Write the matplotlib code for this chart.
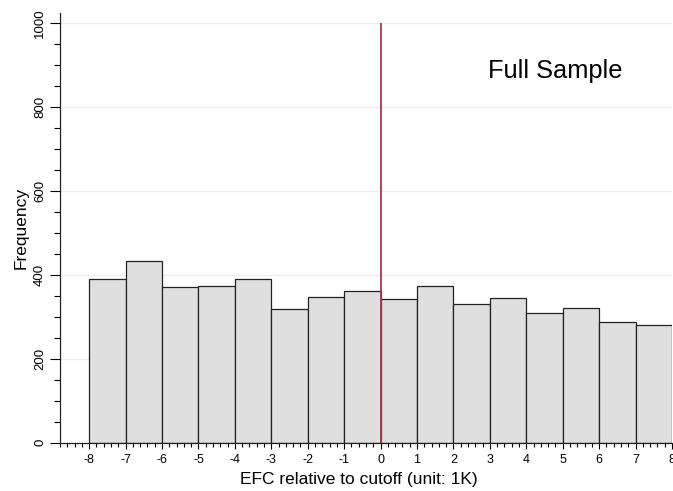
import numpy as np
import matplotlib
matplotlib.use('Agg')
from matplotlib import pyplot as plt
from matplotlib.ticker import MultipleLocator

plt.rcParams['font.family'] = ['Liberation Sans', 'DejaVu Sans']

# Histogram data (bin left edges and counts)
bin_left = np.arange(-8, 8)
counts = [389, 433, 371, 374, 390, 318, 348, 362,
          341, 372, 330, 345, 310, 321, 288, 280]
x_ticks = list(range(-8, 9))
y_ticks = [0, 200, 400, 600, 800, 1000]

fig = plt.figure(figsize=(6.73, 4.91), dpi=100)
ax = fig.add_axes([0.0892, 0.0984, 0.9093, 0.8758])

# Light horizontal grid behind bars
for yv in y_ticks[1:]:
    ax.axhline(yv, color='#e9eff1', lw=1.0, zorder=0)

ax.bar(bin_left, counts, width=1.0, align='edge', color='#dfdfdf',
       edgecolor='#222222', linewidth=0.9, zorder=2)

# Cutoff line
ax.vlines(0, 0, 1000, color='#9e3b45', lw=1.3, zorder=3)

ax.text(0.809, 0.864, 'Full Sample', transform=ax.transAxes,
        fontsize=18.3, ha='center', va='center')

ax.set_xlim(-8.8, 8.0)
ax.set_ylim(0, 1024)

ax.set_xticks(x_ticks)
ax.set_xticklabels([str(v) for v in x_ticks])
ax.xaxis.set_minor_locator(MultipleLocator(0.2))
ax.set_yticks(y_ticks)
ax.set_yticklabels([str(v) for v in y_ticks], rotation=90, va='center')
ax.yaxis.set_minor_locator(MultipleLocator(50))

ax.tick_params(axis='x', which='major', length=4, width=0.8, labelsize=9, pad=4)
ax.tick_params(axis='x', which='minor', length=3, width=0.8)
ax.tick_params(axis='y', which='major', length=7, width=0.8, labelsize=9.5, pad=3)
ax.tick_params(axis='y', which='minor', length=4, width=0.8)

for side in ['top', 'right']:
    ax.spines[side].set_visible(False)
for side in ['left', 'bottom']:
    ax.spines[side].set_linewidth(0.9)
    ax.spines[side].set_color('#222222')

ax.set_xlabel('EFC relative to cutoff (unit: 1K)', fontsize=12.5)
ax.xaxis.set_label_coords(0.488, -0.068)
ax.set_ylabel('Frequency', fontsize=12.5)
ax.yaxis.set_label_coords(-0.052, 0.5)

fig.savefig('out.png', dpi=100)
